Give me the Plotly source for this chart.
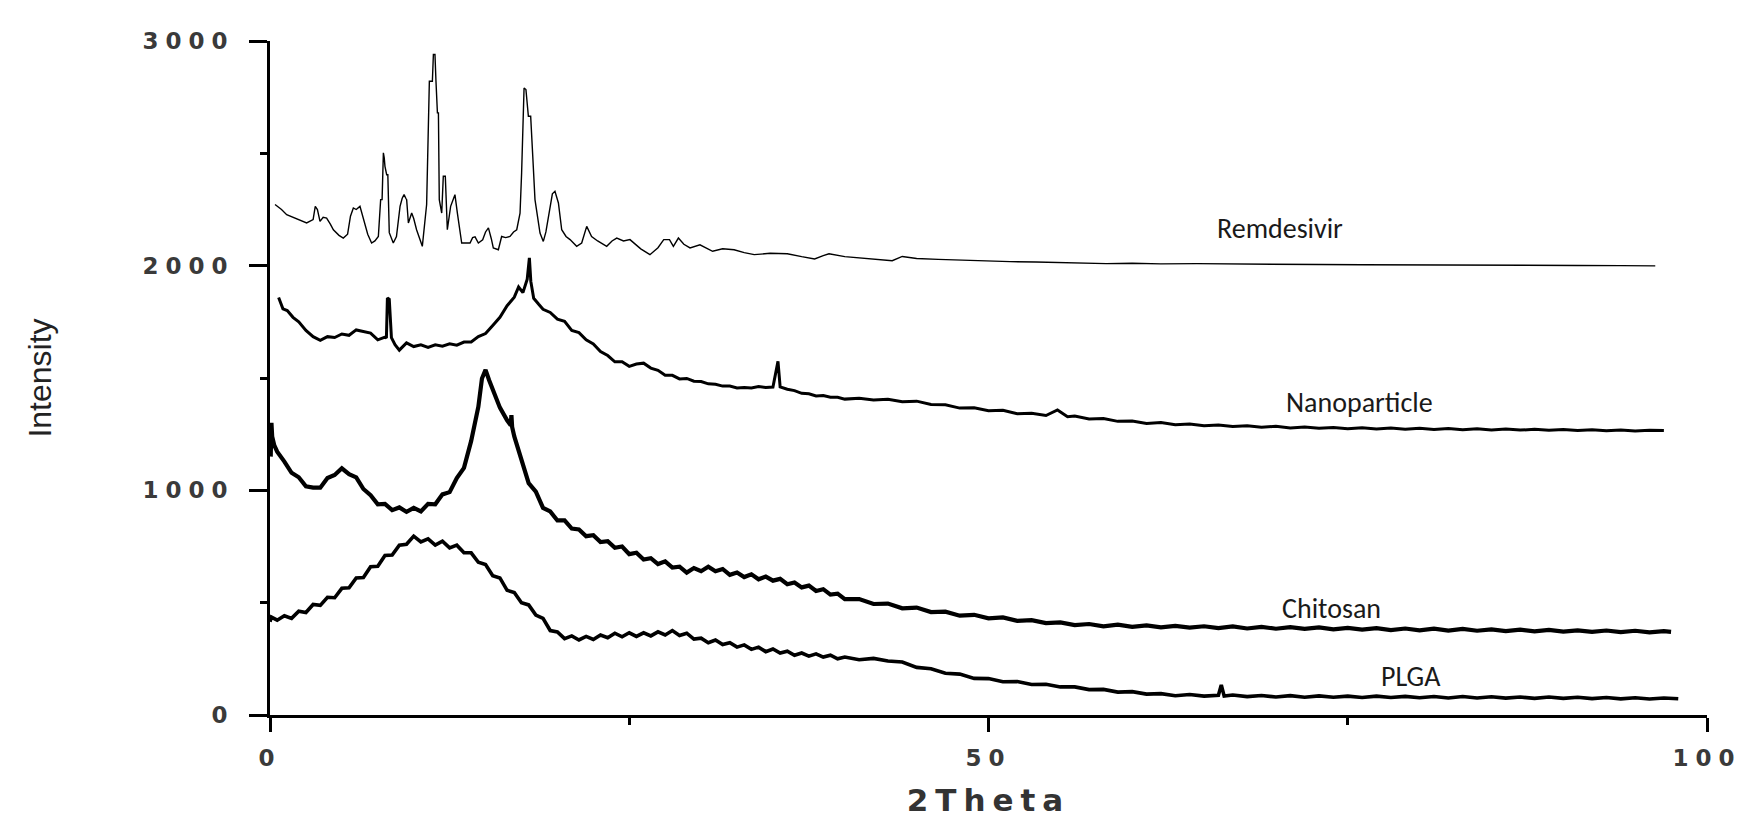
import plotly.graph_objects as go

# ---------------- data ----------------
REMDESIVIR = [
    (0.35,2272),(0.8,2250),(1.16,2227),(1.6,2215),(2.1,2200),(2.55,2190),(3.0,2205),(3.15,2264),(3.3,2250),
    (3.48,2197),(3.7,2215),(3.94,2212),(4.2,2185),(4.41,2160),(4.8,2135),(5.1,2123),(5.4,2140),(5.6,2220),
    (5.8,2257),(6.0,2250),(6.26,2264),(6.4,2230),(6.5,2205),(6.8,2140),(7.07,2101),(7.3,2110),(7.54,2130),
    (7.7,2294),(7.8,2294),(7.89,2502),(7.95,2480),(8.0,2442),(8.12,2405),(8.2,2405),(8.3,2147),(8.58,2101),
    (8.8,2130),(9.05,2264),(9.2,2300),(9.33,2316),(9.45,2300),(9.51,2294),(9.63,2190),(9.86,2234),(10.0,2210),
    (10.2,2160),(10.6,2086),(10.9,2272),(11.09,2821),(11.3,2821),(11.37,2940),(11.48,2940),(11.55,2821),
    (11.65,2680),(11.72,2680),(11.78,2294),(11.95,2234),(12.06,2398),(12.2,2398),(12.34,2160),(12.57,2264),
    (12.7,2290),(12.87,2316),(13.04,2234),(13.34,2101),(13.6,2101),(13.92,2101),(14.1,2125),(14.27,2128),
    (14.5,2101),(14.8,2115),(15.0,2150),(15.2,2168),(15.4,2120),(15.54,2079),(15.89,2071),(16.12,2130),
    (16.4,2125),(16.7,2130),(16.95,2150),(17.17,2160),(17.4,2234),(17.51,2413),(17.68,2791),(17.81,2784),
    (17.98,2665),(18.14,2665),(18.28,2494),(18.44,2294),(18.79,2145),(19.02,2108),(19.2,2150),(19.49,2264),
    (19.65,2320),(19.83,2331),(20.07,2279),(20.3,2160),(20.6,2130),(20.88,2116),(21.34,2086),(21.69,2101),
    (22.04,2175),(22.38,2130),(22.8,2110),(23.43,2086),(23.8,2110),(24.13,2123),(24.6,2110),(25.05,2116),
    (25.8,2075),(26.44,2049),(27.0,2080),(27.4,2116),(27.8,2116),(28.07,2086),(28.42,2123),(28.8,2095),
    (29.23,2079),(29.92,2093),(30.8,2064),(31.5,2075),(32.3,2071),(33.0,2058),(33.7,2049),(34.8,2055),
    (36.0,2053),(37.0,2040),(37.9,2030),(38.5,2045),(38.9,2053),(40.0,2040),(41.1,2034),(42.2,2030),
    (43.3,2022),(44.0,2041),(45.0,2032),(46.5,2028),(48.4,2023),(50.0,2020),(51.5,2018),(53.3,2016),
    (55.0,2014),(56.5,2012),(58.2,2009),(60.0,2011),(62.0,2008),(64.5,2009),(67.0,2007),(70.0,2006),
    (73.0,2005),(76.0,2004),(79.0,2004),(82.0,2003),(85.0,2002),(88.0,2002),(91.0,2001),(94.0,2000),(96.4,1999),
]

NANOPARTICLE = [
    (0.6,1858),(0.9,1808),(1.2,1800),(1.6,1770),(2.0,1750),(2.5,1712),(3.0,1684),(3.5,1668),(4.0,1684),
    (4.5,1680),(5.0,1696),(5.5,1690),(6.0,1714),(6.5,1706),(7.0,1700),(7.5,1670),(8.0,1682),(8.1,1678),
    (8.17,1856),(8.3,1850),(8.45,1680),(8.7,1648),(9.0,1624),(9.5,1656),(10.0,1640),(10.5,1648),(11.0,1636),
    (11.5,1648),(12.0,1642),(12.5,1652),(13.0,1646),(13.5,1660),(14.0,1660),(14.5,1684),(15.0,1698),
    (15.5,1734),(16.0,1770),(16.5,1822),(17.0,1860),(17.3,1905),(17.6,1880),(17.9,1940),(18.05,2035),
    (18.15,1930),(18.35,1855),(18.7,1828),(19.0,1806),(19.5,1792),(20.0,1762),(20.5,1752),(21.0,1712),
    (21.5,1702),(22.0,1670),(22.5,1652),(23.0,1618),(23.5,1600),(24.0,1572),(24.5,1572),(25.0,1552),
    (25.5,1562),(26.0,1566),(26.5,1544),(27.0,1534),(27.5,1512),(28.0,1512),(28.5,1496),(29.0,1498),
    (29.5,1486),(30.0,1484),(30.5,1474),(31.0,1472),(31.5,1464),(32.0,1464),(32.5,1456),(33.0,1458),
    (33.5,1456),(34.0,1462),(34.5,1458),(35.0,1460),(35.35,1574),(35.5,1460),(36.0,1450),(36.5,1444),
    (37.0,1432),(37.5,1430),(38.0,1420),(38.5,1422),(39.0,1414),(39.5,1414),(40.0,1406),(41,1410),(42,1402),
    (43,1405),(44,1394),(45,1397),(46,1382),(47,1381),(48,1366),(49,1368),(50,1354),(51,1356),(52,1341),
    (53,1343),(54,1333),(54.8,1358),(55.5,1328),(56,1331),(57,1318),(58,1320),(59,1307),(60,1309),(61,1298),
    (62,1302),(63,1292),(64,1295),(65,1287),(66,1291),(67,1284),(68,1287),(69,1281),(70,1285),(71,1278),
    (72,1282),(73,1276),(74,1280),(75,1274),(76,1279),(77,1273),(78,1277),(79,1272),(80,1276),(81,1271),
    (82,1275),(83,1270),(84,1274),(85,1269),(86,1273),(87,1268),(88,1272),(89,1267),(90,1271),(91,1266),
    (92,1270),(93,1265),(94,1269),(95,1264),(96,1267),(97,1266),
]

CHITOSAN = [
    (0.05,1150),(0.1,1300),(0.15,1240),(0.3,1200),(0.5,1172),(1.0,1128),(1.5,1078),(2.0,1058),(2.5,1018),
    (3.0,1012),(3.5,1012),(4.0,1055),(4.5,1068),(5.0,1098),(5.5,1072),(6.0,1058),(6.5,1006),(7.0,978),
    (7.5,938),(8.0,940),(8.5,912),(9.0,924),(9.5,904),(10.0,922),(10.5,906),(11.0,940),(11.5,938),
    (12.0,982),(12.5,992),(13.0,1055),(13.5,1100),(14.0,1220),(14.5,1372),(14.75,1498),(15.0,1536),
    (15.25,1490),(15.5,1448),(16.0,1368),(16.5,1312),(16.75,1290),(16.8,1335),(16.85,1282),(17.0,1240),
    (17.5,1138),(18.0,1032),(18.5,994),(19.0,922),(19.5,906),(20.0,866),(20.5,866),(21.0,830),(21.5,826),
    (22.0,796),(22.5,800),(23.0,770),(23.5,774),(24.0,744),(24.5,750),(25.0,716),(25.5,722),(26.0,692),
    (26.5,698),(27.0,672),(27.5,684),(28.0,656),(28.5,660),(29.0,634),(29.5,654),(30.0,640),(30.5,660),
    (31.0,640),(31.5,650),(32.0,624),(32.5,634),(33.0,614),(33.5,626),(34.0,604),(34.5,616),(35.0,598),
    (35.5,606),(36.0,582),(36.5,590),(37.0,568),(37.5,576),(38.0,552),(38.5,560),(39.0,536),(39.5,540),
    (40.0,516),(41,516),(42,494),(43,496),(44,475),(45,478),(46,458),(47,460),(48,442),(49,446),(50,430),
    (51,434),(52,419),(53,422),(54,409),(55,412),(56,400),(57,405),(58,395),(59,402),(60,392),(61,399),
    (62,390),(63,397),(64,389),(65,395),(66,387),(67,394),(68,385),(69,392),(70,384),(71,391),(72,383),
    (73,390),(74,381),(75,388),(76,380),(77,387),(78,378),(79,385),(80,377),(81,384),(82,376),(83,383),
    (84,375),(85,381),(86,373),(87,380),(88,372),(89,379),(90,371),(91,377),(92,370),(93,376),(94,369),
    (95,375),(96,368),(97,373),(97.5,370),
]

PLGA = [
    (0.0,415),(0.1,436),(0.5,422),(1.0,442),(1.5,430),(2.0,462),(2.5,456),(3.0,492),(3.5,488),(4.0,524),
    (4.5,522),(5.0,564),(5.5,566),(6.0,610),(6.5,612),(7.0,660),(7.5,662),(8.0,710),(8.5,712),(9.0,756),
    (9.5,760),(10.0,796),(10.5,770),(11.0,784),(11.5,756),(12.0,774),(12.5,744),(13.0,756),(13.5,722),
    (14.0,722),(14.5,680),(15.0,670),(15.5,620),(16.0,610),(16.5,555),(17.0,545),(17.5,500),(18.0,490),
    (18.5,445),(19.0,430),(19.5,376),(20.0,370),(20.5,340),(21.0,352),(21.5,334),(22.0,350),(22.5,336),
    (23.0,356),(23.5,344),(24.0,364),(24.5,348),(25.0,366),(25.5,350),(26.0,366),(26.5,352),(27.0,370),
    (27.5,356),(28.0,376),(28.5,354),(29.0,364),(29.5,338),(30.0,342),(30.5,322),(31.0,334),(31.5,314),
    (32.0,322),(32.5,302),(33.0,312),(33.5,292),(34.0,302),(34.5,282),(35.0,294),(35.5,276),(36.0,284),
    (36.5,266),(37.0,276),(37.5,262),(38.0,272),(38.5,258),(39.0,266),(39.5,250),(40.0,258),(41,246),
    (42,252),(43,240),(44,236),(45,212),(46,206),(47,186),(48,182),(49,163),(50,162),(51,148),(52,149),
    (53,136),(54,137),(55,125),(56,125),(57,113),(58,114),(59,102),(60,104),(61,93),(62,95),(63,86),(64,91),
    (65,84),(66,88),(66.2,134),(66.4,84),(67,89),(68,82),(69,87),(70,80),(71,86),(72,79),(73,85),(74,79),
    (75,84),(76,78),(77,84),(78,78),(79,83),(80,77),(81,82),(82,76),(83,82),(84,76),(85,81),(86,75),(87,80),
    (88,74),(89,80),(90,74),(91,79),(92,73),(93,78),(94,72),(95,77),(96,71),(97,76),(98,72),
]

SERIES_NAMES = ["Remdesivir", "Nanoparticle", "Chitosan", "PLGA"]
X_TICK_VALS = [0, 50, 100]
X_TICK_LABELS = ["0", "50", "100"]
X_MINOR_VALS = [25, 75]
Y_TICK_VALS = [0, 1000, 2000, 3000]
Y_TICK_LABELS = ["0", "1000", "2000", "3000"]
Y_MINOR_VALS = [500, 1500, 2500]
X_TITLE = "2Theta"
Y_TITLE = "Intensity"

# ---------------- figure ----------------
series = [REMDESIVIR, NANOPARTICLE, CHITOSAN, PLGA]
widths = [1.4, 3.0, 4.2, 3.6]

fig = go.Figure()
for name, pts, w in zip(SERIES_NAMES, series, widths):
    xs = [p[0] for p in pts]
    ys = [p[1] for p in pts]
    fig.add_trace(go.Scatter(x=xs, y=ys, mode="lines", name=name,
                             line=dict(color="#000000", width=w),
                             hoverinfo="skip"))

label_pos = [(70.3, 2165), (75.8, 1392), (73.9, 474), (79.4, 170)]
ann_font = dict(family="Carlito, Lato, sans-serif", size=28, color="#1a1a1a")
for name, (lx, ly) in zip(SERIES_NAMES, label_pos):
    fig.add_annotation(x=lx, y=ly, xref="x", yref="y", text=name, showarrow=False,
                       font=ann_font, xanchor="center", yanchor="middle")

def spaced(t, sp):
    return '<span style="letter-spacing:%dpx">%s</span>' % (sp, t)

tick_font = dict(family="DejaVu Sans", size=23, color="#3a3a3a", weight="bold")

fig.update_xaxes(
    range=[0, 100], showline=True, linecolor="#000", linewidth=3, mirror=False,
    showgrid=False, zeroline=False,
    tickmode="array", tickvals=X_TICK_VALS, ticktext=[spaced(t, 7) for t in X_TICK_LABELS],
    ticks="outside", ticklen=14, tickwidth=3, tickcolor="#000",
    ticklabelstandoff=6, tickfont=tick_font,
    minor=dict(tickvals=X_MINOR_VALS, ticks="outside", ticklen=7, tickwidth=3, tickcolor="#000", showgrid=False),
    title=dict(text=spaced(X_TITLE, 7), standoff=22,
               font=dict(family="DejaVu Sans", size=31, color="#333", weight="bold")),
    automargin=False,
)
fig.update_yaxes(
    range=[0, 3000], showline=True, linecolor="#000", linewidth=3, mirror=False,
    showgrid=False, zeroline=False,
    tickmode="array", tickvals=Y_TICK_VALS, ticktext=[spaced(t, 7) for t in Y_TICK_LABELS],
    ticks="outside", ticklen=18, tickwidth=3, tickcolor="#000",
    ticklabelstandoff=10, tickfont=tick_font,
    minor=dict(tickvals=Y_MINOR_VALS, ticks="outside", ticklen=7, tickwidth=3, tickcolor="#000", showgrid=False),
    title=dict(text=Y_TITLE, standoff=82,
               font=dict(family="Liberation Sans", size=32, color="#222")),
    automargin=False,
)

fig.update_layout(
    width=1752, height=818,
    margin=dict(l=270, r=45, t=41, b=103),
    paper_bgcolor="white", plot_bgcolor="white",
    showlegend=False,
)

fig.write_html("out.html", config={"displayModeBar": False},
               post_script="document.body.style.margin='0';")
